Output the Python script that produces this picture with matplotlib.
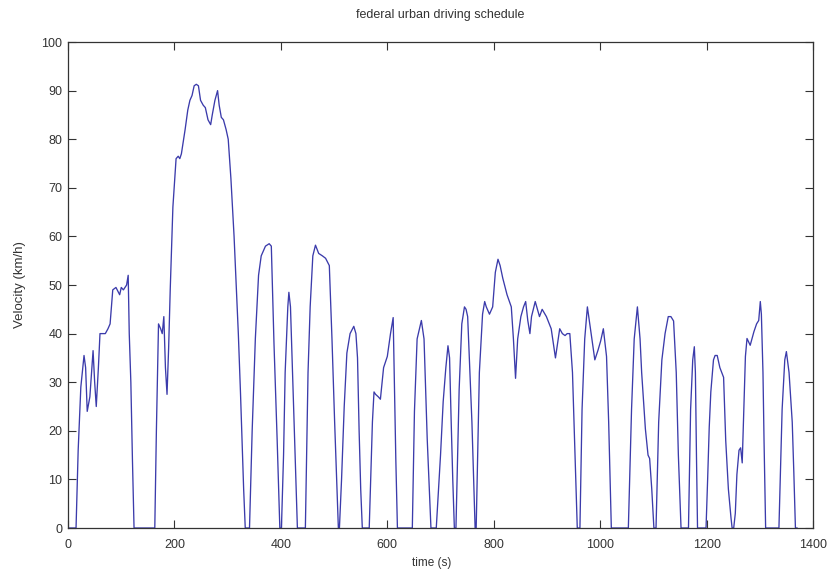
import matplotlib
matplotlib.use('Agg')
import matplotlib.pyplot as plt

# federal urban driving schedule (s, km/h)
time_s = [
    0, 15, 19, 24, 30, 33, 36, 41, 47, 50, 53, 57, 60, 70, 75, 79, 84, 90, 97, 100, 104, 110, 113, 115, 118, 121, 124,
    163, 166, 170, 174, 177, 180, 183, 186, 189, 192, 197, 203, 207, 210, 213, 220, 225, 229, 233, 237, 241, 245, 249,
    254, 258, 263, 268, 271, 276, 281, 284, 288, 292, 297, 301, 306, 312, 316, 320, 324, 327, 330, 333,
    341, 346, 352, 358, 363, 371, 378, 382, 384, 387, 393, 398,
    401, 405, 408, 413, 415, 418, 421, 426, 431,
    446, 451, 455, 460, 465, 471, 478, 484, 491, 496, 501, 508,
    510, 514, 519, 524, 530, 537, 541, 544, 547, 550, 553,
    566, 572, 575, 578, 583, 587, 593, 600, 606, 611, 613, 616, 619,
    647, 651, 656, 664, 669, 675, 682,
    692, 700, 705, 710, 714, 717, 720, 723, 726,
    729, 735, 740, 745, 748, 751, 754, 759, 765,
    767, 773, 779, 783, 786, 792, 798, 803, 808, 812, 817, 825, 833, 837, 841, 845, 851, 856, 860, 864, 868,
    871, 878, 886, 891, 899, 908, 916, 924, 929, 934, 938, 943, 948, 953, 957,
    962, 966, 971, 976, 983, 990, 996, 1001, 1006, 1012, 1016, 1021,
    1053, 1059, 1064, 1070, 1075, 1078, 1085, 1090, 1093, 1097, 1101,
    1105, 1110, 1116, 1122, 1128, 1133, 1138, 1143, 1147, 1152,
    1166, 1170, 1174, 1177, 1179, 1181, 1183,
    1199, 1202, 1205, 1208, 1213, 1216, 1220, 1225, 1232, 1236, 1241, 1246, 1248,
    1251, 1254, 1257, 1261, 1264, 1267, 1270, 1273, 1276, 1282, 1289, 1294, 1298, 1301, 1303, 1306, 1308, 1311,
    1336, 1342, 1347, 1350, 1355, 1361, 1364, 1367, 1370,
]
speed_kmh = [
    0, 0, 16, 29, 35.5, 33, 24, 27, 36.5, 30, 25, 33, 40, 40, 41, 42, 49, 49.5, 48, 49.5, 49, 50, 52, 40, 30, 14, 0,
    0, 20, 42, 41, 40, 43.5, 33, 27.5, 37, 49, 66, 76, 76.5, 76, 77, 82, 86, 88, 89, 91, 91.3, 91, 88,
    87, 86.5, 84, 83, 85, 88, 90, 87, 84.5, 84, 82, 80, 72, 60, 50, 40, 28, 18, 8, 0,
    0, 20, 39, 52, 56, 58, 58.5, 58, 50, 38, 18, 0,
    0, 15, 32, 45.5, 48.5, 45.5, 35, 18, 0,
    0, 32, 45.5, 56, 58.2, 56.5, 56, 55.5, 54, 38.9, 21.8, 0,
    0, 10, 25, 36, 40, 41.5, 40, 35, 20, 8, 0,
    0, 21.8, 28, 27.5, 27, 26.5, 33, 35.3, 40, 43.3, 32, 14, 0,
    0, 24, 38.9, 42.7, 38.9, 18.3, 0,
    0, 15, 26, 33, 37.5, 35, 22, 10, 0,
    0, 28.5, 42, 45.5, 45, 43.5, 35.3, 21.8, 0,
    0, 32, 44, 46.6, 45.5, 44, 45.5, 52.6, 55.3, 54, 51.4, 48, 45.5, 38.9, 30.8, 38.9, 43.5, 45.5, 46.6, 42.7, 40,
    43.5, 46.6, 43.5, 45, 43.5, 41, 35, 41, 40, 39.6, 40, 40, 32, 14, 0,
    0, 24.4, 38.9, 45.5, 40, 34.6, 36.6, 38.5, 41, 35.3, 21.8, 0,
    0, 24.4, 38.9, 45.5, 38.9, 32, 20.4, 15, 14.3, 8, 0,
    0, 21.8, 34.6, 40, 43.5, 43.5, 42.6, 32, 15, 0,
    0, 24.4, 34.6, 37.3, 32, 15, 0,
    0, 10, 20.7, 28, 34.6, 35.5, 35.5, 33, 31, 18, 8, 2, 0,
    0, 3, 11, 16, 16.5, 13.4, 24.4, 35.3, 39, 37.6, 40.4, 42, 42.7, 46.6, 44, 32, 18, 0,
    0, 24.4, 34.6, 36.3, 32, 21.8, 11.4, 0, 0,
]

LINE_COLOR = '#3b3bab'
TEXT_COLOR = '#333333'

plt.rcParams['font.family'] = ['Liberation Sans', 'DejaVu Sans']

fig = plt.figure(figsize=(8.3, 5.71), dpi=100)
ax = fig.add_axes([0.082, 0.0753, 0.8975, 0.8511])

ax.plot(time_s, speed_kmh, color=LINE_COLOR, linewidth=0.95)

ax.set_xlim(0, 1400)
ax.set_ylim(0, 100)
ax.set_xticks(range(0, 1401, 200))
ax.set_yticks(range(0, 101, 10))
ax.tick_params(direction='in', length=6, width=0.8, top=True, right=True,
               labelsize=9, colors=TEXT_COLOR)
ax.tick_params(axis='x', pad=8)
ax.tick_params(axis='y', pad=4)
for side in ax.spines.values():
    side.set_color(TEXT_COLOR)
    side.set_linewidth(0.9)

ax.set_title('federal urban driving schedule', fontsize=9, color=TEXT_COLOR, pad=17)
ax.set_xlabel('time (s)', fontsize=8.5, color=TEXT_COLOR)
ax.xaxis.set_label_coords(0.488, -0.06)
ax.set_ylabel('Velocity (km/h)', fontsize=9.5, color=TEXT_COLOR)
ax.yaxis.set_label_coords(-0.056, 0.5)

fig.savefig('out.png', dpi=100)
